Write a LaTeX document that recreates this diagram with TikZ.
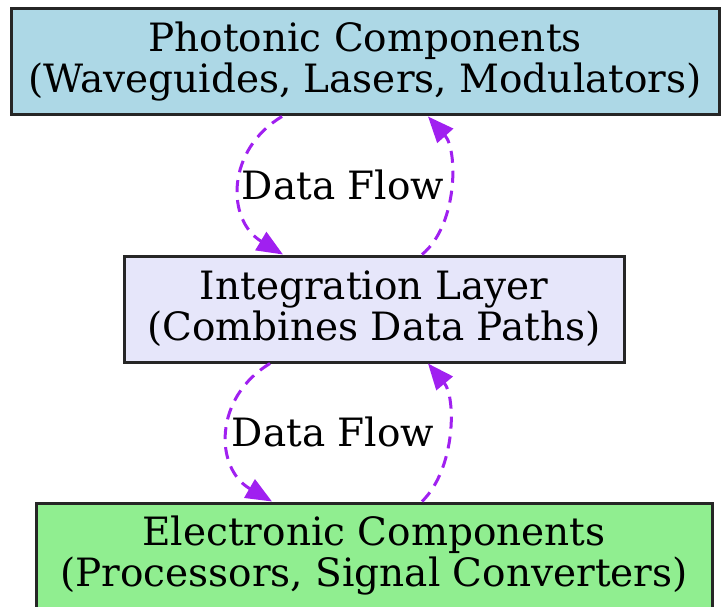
\documentclass[tikz,border=0pt]{standalone}
\usepackage{fontspec}
\setmainfont{DejaVu Serif}
\usetikzlibrary{arrows.meta}
\definecolor{boxblue}{HTML}{ADD8E6}
\definecolor{boxlav}{HTML}{E6E6FA}
\definecolor{boxgreen}{HTML}{90EE90}
\definecolor{flowpurple}{HTML}{A020F0}
\begin{document}
\begin{tikzpicture}[x=1pt,y=-1pt,
  compbox/.style={draw=black!85, line width=3pt, rectangle, inner sep=0pt, align=center,
    font=\fontsize{39}{41}\selectfont},
  flow/.style={draw=flowpurple, line width=3pt, dash pattern=on 12pt off 8pt,
    -{Triangle[length=26pt,width=21pt]}, color=flowpurple},
  flowlabel/.style={font=\fontsize{39}{41}\selectfont, inner sep=0pt}]
\useasboundingbox (0,0) rectangle (722,607);
\node[compbox, fill=boxblue, minimum width=708pt, minimum height=106pt] (top) at (365,62)
  {Photonic Components\\(Waveguides, Lasers, Modulators)};
\node[compbox, fill=boxlav, minimum width=500pt, minimum height=106pt] (mid) at (374,309)
  {Integration Layer\\(Combines Data Paths)};
\node[compbox, fill=boxgreen, minimum width=676pt, minimum height=106pt] (bot) at (374,556)
  {Electronic Components\\(Processors, Signal Converters)};
\node[flowlabel] (l1) at (343,185) {Data Flow};
\node[flowlabel] (l2) at (333,432) {Data Flow};
\draw[flow] ([xshift=-83pt]top.south) .. controls (226,150) and (226,220) .. ([xshift=-91pt]mid.north);
\draw[flow] ([xshift=48pt]mid.north) .. controls (458,225) and (458,150) .. ([xshift=63pt]top.south);
\draw[flow] ([xshift=-104pt]mid.south) .. controls (214,397) and (214,468) .. ([xshift=-102pt]bot.north);
\draw[flow] ([xshift=48pt]bot.north) .. controls (456,468) and (456,397) .. ([xshift=54pt]mid.south);
\end{tikzpicture}
\end{document}
